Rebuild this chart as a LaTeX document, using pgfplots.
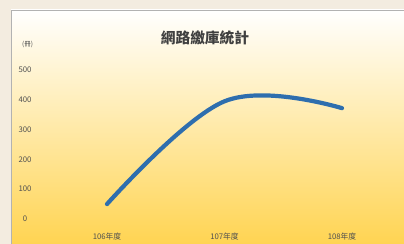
\documentclass[border=0pt]{standalone}
\usepackage{pgfplots}
\pgfplotsset{compat=1.18}
\usepackage{fontspec}
\setmainfont{Noto Sans CJK TC}
\definecolor{outerbg}{HTML}{F3ECE0}
\definecolor{panelmid}{HTML}{FEEDBE}
\definecolor{panelbot}{HTML}{FFD452}
\definecolor{linecol}{HTML}{2E6EAE}
\definecolor{txt}{HTML}{505050}
\begin{document}
\begin{tikzpicture}
\useasboundingbox (0,0) rectangle (404bp,244bp);
\fill[outerbg] (0,0) rectangle (404bp,244bp);
\shade[top color=white, middle color=panelmid, bottom color=panelbot] (11bp,0) rectangle (404bp,234bp);
\draw[gray!60, line width=0.8bp] (11bp,0) -- (11bp,234bp) -- (404bp,234bp);
\begin{axis}[
  at={(107bp,25bp)}, anchor=south west,
  scale only axis, width=235bp, height=149bp,
  xmin=0, xmax=2, ymin=0, ymax=500,
  enlargelimits=false, clip=false,
  axis line style={draw=none},
  tick style={draw=none},
  xtick={0,1,2}, xticklabels={106年度,107年度,108年度},
  ytick={0,100,200,300,400,500},
  /pgf/number format/assume math mode=true,
  ticklabel style={font=\fontsize{7.8}{8}\selectfont, text=txt},
  yticklabel style={anchor=center, xshift=-82bp},
  xticklabel style={anchor=center, yshift=-18bp},
]
\addplot[linecol, line width=4.2bp, line cap=round, smooth, tension=0.62] coordinates {(0,50) (1,395) (2,372)};
\node[font=\fontsize{14.8}{16}\selectfont\bfseries, text=black!75] at (rel axis cs:0.417,1.215) {網路繳庫統計};
\node[font=\fontsize{6.5}{7}\selectfont, text=txt] at (rel axis cs:-0.338,1.168) {(冊)};
\end{axis}
\end{tikzpicture}
\end{document}
